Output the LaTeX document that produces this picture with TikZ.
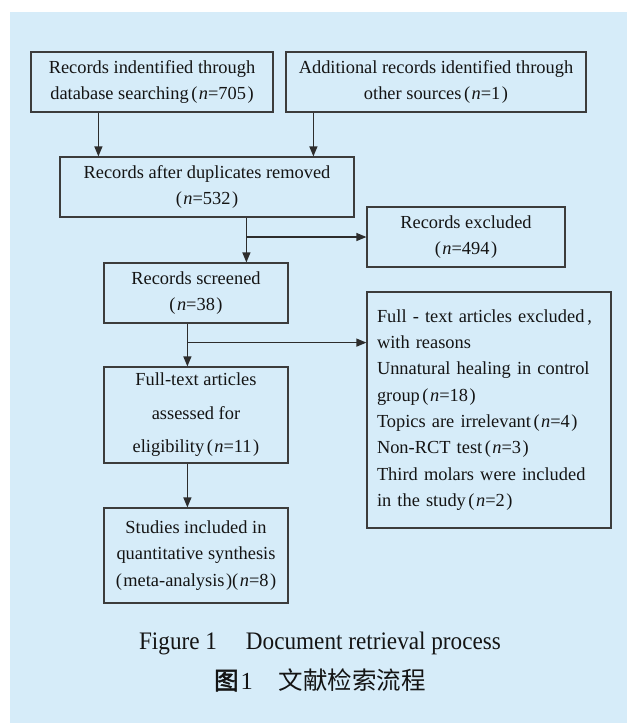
\documentclass[tikz,border=0pt]{standalone}
\usepackage{fontspec}
\setmainfont{Liberation Serif}
\newfontfamily\capserif{Liberation Serif}[FakeStretch=0.92]
\newfontfamily\cjk{Noto Sans CJK SC}
\newfontfamily\cjkb[FakeBold=2]{Noto Sans CJK SC}
\usetikzlibrary{arrows.meta}
\definecolor{bgblue}{RGB}{214,236,249}
\definecolor{boxc}{RGB}{60,60,60}
\definecolor{linec}{RGB}{45,45,45}
\definecolor{txt}{RGB}{20,20,20}
\newcommand{\cnt}[1]{\hspace{2.5pt}(\hspace{1.5pt}\textit{n}=#1\hspace{1.5pt})}
\newcommand{\boxfont}{\fontsize{18.4pt}{26.3pt}\selectfont}
\newcommand{\tallfont}{\fontsize{18.4pt}{33.5pt}\selectfont}
\newcommand{\capfont}{\capserif\fontsize{25.2pt}{28pt}\selectfont}
\tikzset{
  box/.style={draw=boxc, line width=1.2pt, align=center, inner sep=0pt, text=txt, font=\boxfont},
  arr/.style={draw=linec, line width=1.2pt, -{Triangle[width=8pt,length=10pt]}},
  ln/.style={draw=linec, line width=1.2pt}
}
\begin{document}
\begin{tikzpicture}[x=1pt,y=-1pt]
\useasboundingbox (0,0) rectangle (627,724);
\fill[bgblue] (10,12) rectangle (627,723);

\node[box, minimum width=242pt, minimum height=60pt] (b1) at (152,82)
  {Records indentified through\\database searching\cnt{705}};
\node[box, minimum width=300pt, minimum height=60pt] (b2) at (436,82)
  {Additional records identified through\\other sources\cnt{1}};
\node[box, minimum width=294pt, minimum height=60pt] (b3) at (207,187)
  {Records after duplicates removed\\(\hspace{1.5pt}\textit{n}=532\hspace{1.5pt})};
\node[box, minimum width=198pt, minimum height=60pt] (b5) at (466,237)
  {Records excluded\\(\hspace{1.5pt}\textit{n}=494\hspace{1.5pt})};
\node[box, minimum width=184pt, minimum height=60pt] (b4) at (196,293)
  {Records screened\\(\hspace{1.5pt}\textit{n}=38\hspace{1.5pt})};
\node[box, align=left, text width=224pt, minimum width=244pt, minimum height=236pt] (b6) at (489,410)
  {\makebox[224pt][s]{Full - text articles excluded\hspace{3pt},}\\
   with reasons\\
   \makebox[224pt][s]{Unnatural healing in control}\\
   group\cnt{18}\\
   Topics are irrelevant\cnt{4}\\
   Non-RCT test\cnt{3}\\
   \makebox[224pt][s]{Third molars were included}\\
   in the study\cnt{2}};
\node[box, font=\tallfont, minimum width=184pt, minimum height=96pt] (b7) at (196,415)
  {Full-text articles\\assessed for\\eligibility\cnt{11}};
\node[box, minimum width=184pt, minimum height=95pt] (b8) at (196,555.5)
  {Studies included in\\quantitative synthesis\\(\hspace{1.5pt}meta-analysis\hspace{1.5pt})(\hspace{1.5pt}\textit{n}=8\hspace{1.5pt})};

\draw[arr] ([xshift=68pt]b1.south west) -- ([xshift=68pt]b1.south west |- b3.north);
\draw[arr] ([xshift=28pt]b2.south west) -- ([xshift=28pt]b2.south west |- b3.north);

\coordinate (s1) at ([xshift=187pt]b3.south west);
\draw[arr] (s1) -- (s1 |- b4.north);
\coordinate (j1) at (s1 |- b5.west);
\draw[arr] (j1) -- (b5.west);

\coordinate (s2) at ([xshift=84pt]b4.south west);
\draw[arr] (s2) -- (s2 |- b7.north);
\coordinate (j2) at ([yshift=-19pt]s2);
\draw[arr] (j2) -- (j2 -| b6.west);
\draw[arr] (s2 |- b7.south) -- (s2 |- b8.north);

\node[font=\capfont, text=txt, inner sep=0pt] (cap1) at (320,643)
  {Figure 1\hspace{29pt}Document retrieval process};
\node[font=\fontsize{24.5pt}{28pt}\selectfont, text=txt, inner sep=0pt] (cap2) at (320,680)
  {{\cjkb 图}\hspace{2pt}1\hspace{26pt}{\cjk 文献检索流程}};
\end{tikzpicture}
\end{document}
